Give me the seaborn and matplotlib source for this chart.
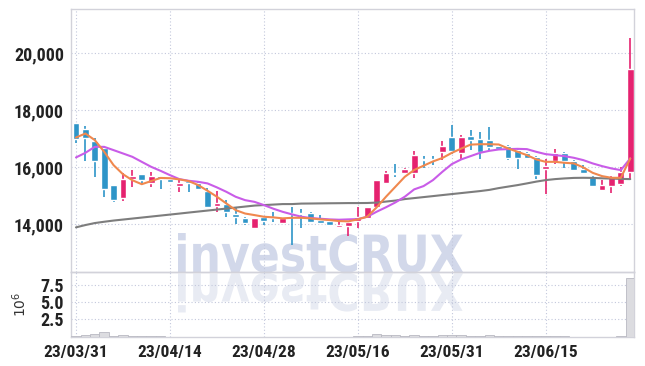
import numpy as np
import pandas as pd
import matplotlib
matplotlib.use("Agg")
import matplotlib.pyplot as plt
import seaborn as sns
from matplotlib.textpath import TextPath
from matplotlib.patches import PathPatch
from matplotlib.font_manager import FontProperties
from matplotlib import transforms

# ---- data ----
opens = [17550, 17330, 16910, 16680, 15370, 14920, 15570, 15750, 15430, 15680,
         15590, 15340, 15500, 15450, 15170, 14640, 14720, 14370, 14230, 13850,
         14260, 14230, 14020, 14380, 14380, 14400, 14140, 14120, 13910, 13930,
         14120, 14200, 14610, 15430, 15780, 15810, 15800, 16250, 16250, 16540,
         17050, 16480, 17090, 16980, 16950, 16740, 16740, 16600, 16500, 16360,
         15920, 16210, 16500, 16210, 15950, 15640, 15190, 15330, 15400, 15830]
highs = [17560, 17440, 17030, 16700, 15370, 15780, 15900, 15760, 15830, 15690,
         15600, 15600, 15520, 15460, 15250, 15170, 14840, 14550, 14250, 14200,
         14270, 14410, 14220, 14600, 14520, 14420, 14320, 14130, 14180, 14100,
         14590, 14610, 15560, 15860, 16100, 15980, 16560, 16400, 16400, 16910,
         17470, 17120, 17300, 17220, 17410, 16750, 16760, 16620, 16520, 16400,
         16270, 16620, 16520, 16250, 16070, 15700, 15540, 15680, 16010, 20520]
lows = [16850, 16220, 15640, 14960, 14760, 14800, 15310, 15360, 15310, 15220,
        15450, 15110, 15120, 15200, 14600, 14410, 14260, 14000, 13960, 13830,
        13960, 14080, 14000, 13260, 13850, 14060, 14020, 13950, 13850, 13580,
        13850, 14170, 14600, 15400, 15640, 15780, 15620, 15980, 16070, 16250,
        16450, 16280, 16600, 16300, 16600, 16600, 16250, 15930, 16300, 15600,
        15050, 16100, 15980, 15850, 15780, 15300, 15190, 15100, 15330, 15570]
closes = [17000, 17030, 16220, 15220, 14840, 15580, 15680, 15540, 15680, 15590,
          15470, 15440, 15430, 15220, 14610, 14750, 14430, 14260, 14020, 14200,
          14120, 14210, 14200, 14360, 14370, 14080, 14030, 13970, 13980, 14080,
          14260, 14600, 15540, 15800, 15770, 15950, 16420, 16240, 16240, 16740,
          16570, 17050, 16970, 16520, 16700, 16630, 16330, 16330, 16330, 15740,
          16030, 16480, 16210, 15900, 15800, 15330, 15370, 15660, 15830, 19430]

ma_short = [17040, 17180, 16950, 16540, 16070, 15750, 15540, 15400, 15510, 15620,
            15610, 15570, 15510, 15370, 15170, 14960, 14725, 14490, 14370, 14315,
            14257, 14235, 14200, 14220, 14220, 14200, 14165, 14140, 14105, 14095,
            14165, 14257, 14585, 14960, 15310, 15660, 15900, 16050, 16200, 16320,
            16500, 16650, 16790, 16805, 16805, 16795, 16656, 16540, 16421, 16270,
            16186, 16186, 16152, 16130, 15990, 15800, 15684, 15625, 15625, 16305]
ma_mid = [16340, 16502, 16712, 16712, 16597, 16480, 16362, 16186, 16011, 15870,
          15719, 15579, 15520, 15485, 15428, 15288, 15134, 14958, 14840, 14780,
          14667, 14540, 14430, 14340, 14257, 14211, 14187, 14164, 14152, 14164,
          14175, 14257, 14432, 14590, 14760, 14960, 15218, 15334, 15544, 15835,
          16105, 16270, 16386, 16502, 16572, 16620, 16632, 16642, 16632, 16537,
          16456, 16421, 16386, 16327, 16246, 16130, 16035, 15954, 15895, 16305]
ma_long = [13884, 13965, 14035, 14081, 14123, 14158, 14193, 14228, 14263, 14298,
           14333, 14368, 14404, 14439, 14474, 14509, 14544, 14579, 14614, 14649,
           14667, 14684, 14702, 14702, 14719, 14722, 14726, 14730, 14733, 14737,
           14737, 14740, 14754, 14790, 14825, 14877, 14912, 14947, 14982, 15018,
           15053, 15088, 15123, 15158, 15200, 15263, 15316, 15368, 15428, 15491,
           15544, 15579, 15603, 15621, 15625, 15621, 15607, 15597, 15586, 15579]
volume_m = [0.10, 0.25, 0.40, 0.65, 0.15, 0.30, 0.15, 0.10, 0.10, 0.05,
            0, 0, 0, 0, 0, 0, 0, 0, 0, 0,
            0, 0, 0, 0, 0, 0, 0, 0, 0, 0,
            0.10, 0.05, 0.35, 0.25, 0.25, 0.10, 0.20, 0.10, 0.10, 0.30,
            0.25, 0.20, 0.10, 0.10, 0.30, 0.08, 0.08, 0.08, 0.08, 0.08,
            0.08, 0.08, 0.08, 0, 0, 0, 0, 0, 0.10, 8.40]

tick_pos = [0, 10, 20, 30, 40, 50]
tick_labels = ['23/03/31', '23/04/14', '23/04/28', '23/05/16', '23/05/31', '23/06/15']
price_ticks = [14000, 16000, 18000, 20000]
vol_ticks = [2.5, 5.0, 7.5]

UP = '#e5226f'
DOWN = '#2e95c8'
GRID = '#c3c8dc'
SPINE = '#d2d2da'

sns.set_theme(style='white')
plt.rcParams['font.family'] = ['Roboto Condensed', 'Liberation Sans Narrow', 'Roboto', 'DejaVu Sans']

df = pd.DataFrame({'i': np.arange(len(opens)), 'open': opens, 'high': highs,
                   'low': lows, 'close': closes, 'ma_s': ma_short,
                   'ma_m': ma_mid, 'ma_l': ma_long, 'vol': volume_m})

fig = plt.figure(figsize=(6.45, 3.66), dpi=100)
ax = fig.add_axes([71 / 645, 1 - 272 / 366, 563 / 645, 263 / 366])
ax2 = fig.add_axes([71 / 645, 1 - 336.6 / 366, 563 / 645, 64.6 / 366], sharex=ax)
for a in (ax, ax2):
    a.patch.set_alpha(0)

# watermark with its mirror image
prop = FontProperties(family='DejaVu Sans', weight='bold')
tp = TextPath((0, 0), 'investCRUX', size=1, prop=prop)
ext = tp.get_extents()
W, H = 645, 366
x0, x1 = 178 / W, 463 / W
base = 1 - 272 / H
top = 1 - 233 / H
sx = (x1 - x0) / ext.width
sy = (top - base) / ext.y1
tr = transforms.Affine2D().translate(-ext.x0, 0).scale(sx, sy).translate(x0, base) + fig.transFigure
fig.patches.append(PathPatch(tp, transform=tr, facecolor='#d2d8ea', edgecolor='none', zorder=-2))
tr2 = transforms.Affine2D().translate(-ext.x0, 0).scale(sx, -sy).translate(x0, base - 0.004) + fig.transFigure
fig.patches.append(PathPatch(tp, transform=tr2, facecolor='#e8ebf3', edgecolor='none', zorder=-2))

# candles
up = df['close'] >= df['open']
cols = np.where(up, UP, DOWN)
ax.vlines(df['i'], df['low'], df['high'], colors=cols, lw=1.2, zorder=3)
body_lo = np.minimum(df['open'], df['close'])
body_h = np.maximum(np.abs(df['close'] - df['open']), 35)
ax.bar(df['i'], body_h, bottom=body_lo, width=0.72, color=cols, zorder=4)

# moving averages
sns.lineplot(data=df, x='i', y='ma_l', color='#7d7d7d', lw=1.5, ax=ax, zorder=5)
sns.lineplot(data=df, x='i', y='ma_m', color='#c95ce8', lw=1.5, ax=ax, zorder=5)
sns.lineplot(data=df, x='i', y='ma_s', color='#f0884e', lw=1.5, ax=ax, zorder=6)

# volume
sns.barplot(data=df, x='i', y='vol', native_scale=True, width=1.0, color='#dcdce0',
            edgecolor='#b9b9c2', linewidth=0.6, saturation=1, errorbar=None, ax=ax2, zorder=3)

ax.set_xlim(-0.53, 59.4)
ax.set_ylim(12316, 21554)
ax2.set_ylim(0, 9.32)

ax.set_yticks(price_ticks)
ax.set_yticklabels([f'{v:,}' for v in price_ticks])
ax2.set_yticks(vol_ticks)
ax2.set_yticklabels([f'{v:.1f}' for v in vol_ticks])
ax2.set_xticks(tick_pos)
ax2.set_xticklabels(tick_labels)
ax.tick_params(axis='x', labelbottom=False, length=0)
ax.tick_params(axis='y', length=0, pad=5, labelsize=13, labelcolor='#222222')
ax2.tick_params(axis='y', length=0, labelsize=13, labelcolor='#222222', pad=5)
ax2.tick_params(axis='x', length=0, labelsize=12.5, labelcolor='#222222', pad=6)
for lab in ax.get_yticklabels() + ax2.get_yticklabels() + ax2.get_xticklabels():
    lab.set_fontweight('bold')

ax.set_xlabel('')
ax.set_ylabel('')
ax2.set_xlabel('')
ax2.set_ylabel(r'$10^6$', fontsize=10, color='#333333', family='DejaVu Sans', labelpad=8)

for a in (ax, ax2):
    a.grid(True, ls=(0, (1, 2)), color=GRID, lw=0.8)
    for s in a.spines.values():
        s.set_color(SPINE)
        s.set_linewidth(1.0)

fig.savefig('out.png', dpi=100)
